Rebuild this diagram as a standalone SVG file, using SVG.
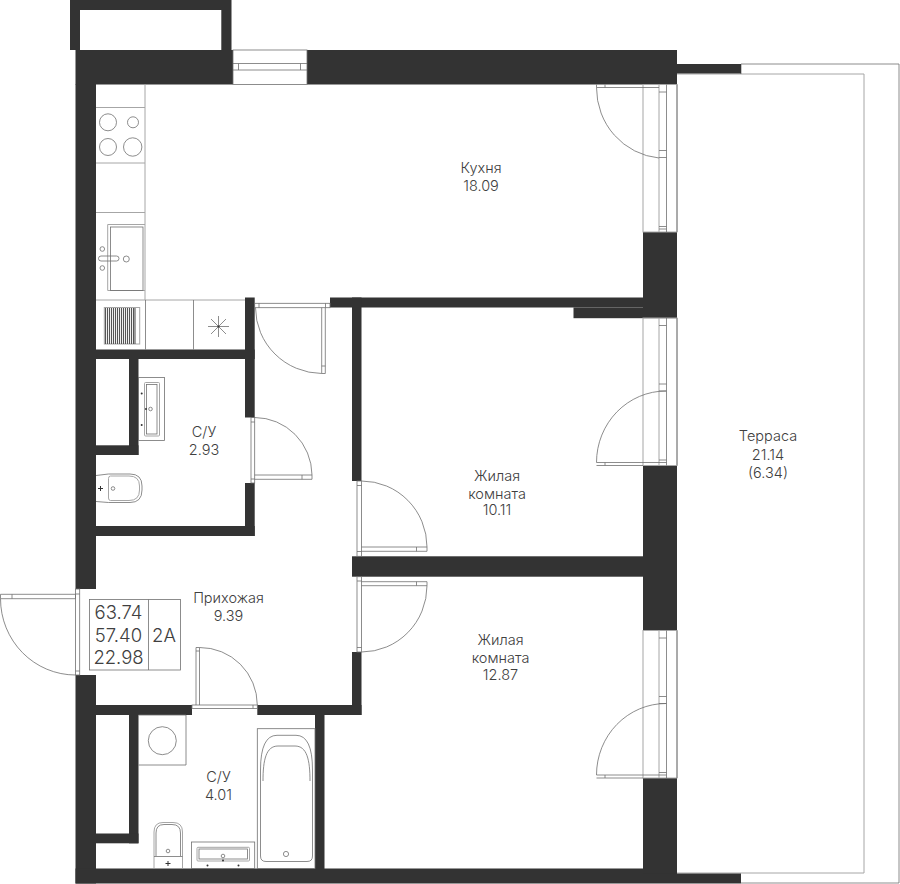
<svg xmlns="http://www.w3.org/2000/svg" width="900" height="884" viewBox="0 0 900 884">
<style>
.w{fill:#333333;stroke:none}
.l{fill:none;stroke:#707070;stroke-width:.8}
.g{fill:none;stroke:#a6a6a6;stroke-width:1}
.f{fill:#333333}
text{font-family:"Inter","Liberation Sans",sans-serif;font-weight:300;font-size:14.5px;fill:#404040;text-anchor:middle}
.b{font-size:18.5px}
</style>
<defs>
<g id="win">
<rect class="g" x="643" y="0" width="34" height="147.500"/>
<path class="l" d="M677 0V147.500"/>
<path class="g" d="M659 0V147.500"/>
<path class="l" d="M666.500 0V147.500M659 7.500H666.500M659 66H666.500M659 73H666.500M659 142H666.500M659 144.500H666.500"/>
</g>
</defs>
<rect width="900" height="884" fill="#ffffff"/>

<g id="terrace">
<path class="l" d="M741 64H899V883H741"/>
<path class="g" d="M677 74H864V873H677"/>
<path class="l" d="M741 64V74"/>
</g>

<g id="walls">
<path class="w" d="M70 0H231.500V50H221.300V10H80V50H70Z"/>
<rect class="w" x="75.500" y="50" width="157.500" height="34.500"/>
<rect class="w" x="307" y="50" width="370" height="34.500"/>
<rect class="w" x="677" y="64" width="64" height="9.500"/>
<rect class="w" x="75.500" y="84" width="20.500" height="505"/>
<rect class="w" x="75.500" y="675" width="20.500" height="208.500"/>
<rect class="w" x="75.500" y="868.500" width="601.500" height="15"/>
<rect class="w" x="677" y="873.500" width="64" height="10"/>
<rect class="w" x="96" y="349.500" width="158.700" height="9.500"/>
<rect class="w" x="245" y="297.500" width="9.700" height="120"/>
<rect class="w" x="245" y="483" width="9.700" height="53"/>
<rect class="w" x="96" y="526" width="158.700" height="10"/>
<rect class="w" x="129" y="359" width="9.500" height="96"/>
<rect class="w" x="96" y="445.300" width="42.500" height="9.700"/>
<rect class="w" x="330" y="297.500" width="313" height="10"/>
<rect class="w" x="573.500" y="307.500" width="103.500" height="10.700"/>
<rect class="w" x="643" y="232" width="34" height="86"/>
<rect class="w" x="352" y="297.500" width="9.500" height="183.500"/>
<rect class="w" x="352" y="556.300" width="291" height="20.400"/>
<rect class="w" x="643" y="466" width="34" height="164.500"/>
<rect class="w" x="352" y="652" width="9.500" height="63"/>
<rect class="w" x="96" y="705" width="96" height="10"/>
<rect class="w" x="257.300" y="705" width="104.200" height="10"/>
<rect class="w" x="315" y="715" width="9.500" height="154"/>
<rect class="w" x="129" y="715" width="9.500" height="128.300"/>
<rect class="w" x="96" y="833.500" width="42.500" height="9.800"/>
<rect class="w" x="643" y="778" width="34" height="95.500"/>
</g>

<g id="top-window">
<rect class="l" x="233" y="50" width="74" height="34.500"/>
<path class="l" d="M233 63.500H307M233 70H307M238.500 63.500V70M300.500 63.500V70"/>
</g>
<g id="terrace-windows">
<use href="#win" y="84.500"/>
<use href="#win" y="318"/>
<use href="#win" y="630.500"/>
</g>

<g id="doors">
<path class="l" d="M596.500 84.500V87.500H659M605 84.500V87.500M596.500 87.500A69 70.500 0 0 0 659 158"/>
<path class="l" d="M596.500 462.500H659M596.500 465.500H643M605 462.500V465.500M596.500 462.500A69.500 71.500 0 0 1 666 391"/>
<path class="l" d="M596.500 775H659M596.500 778H643M605 775V778M596.500 775A69.500 71.500 0 0 1 666 703.500"/>

<rect class="l" x="254.700" y="303.300" width="75.300" height="4.400"/><path class="l" d="M259 303.300V307.700M325.500 303.300V307.700"/>
<path class="l" d="M321.700 307.700V373.500H325.300V307.700M321.700 366H325.300M255.500 307.700A67 66 0 0 0 321.700 373.500"/>

<rect class="l" x="251" y="417.500" width="3.700" height="65.500"/>
<path class="l" d="M251 422H254.700M251 479H254.700M254.700 475H312V479.300H254.700M302 475V479.300M254.700 417.500A57.500 58 0 0 1 312 475"/>

<rect class="l" x="357" y="481" width="4.500" height="75.300"/>
<path class="l" d="M357 485.500H361.500M357 551.500H361.500M361.500 547H427V551.300H361.500M416.500 547V551.300M361.500 481A65.500 66 0 0 1 427 547"/>
<rect class="l" x="357" y="576.700" width="4.500" height="75.300"/>
<path class="l" d="M357 581H361.500M357 647.500H361.500M361.500 581.700H427V585.700H361.500M416.500 581.700V585.700M427 585.700A65.500 66.300 0 0 1 361.500 652"/>

<rect class="l" x="75.500" y="589" width="4.200" height="86"/>
<path class="l" d="M75.500 594H79.700M75.500 671H79.700M.5 594.300H75.500V598.700H.5ZM12 594.300V598.700M.5 598.700A75 76.300 0 0 0 75.500 675"/>

<rect class="l" x="192" y="705" width="65.300" height="3.500"/>
<path class="l" d="M196 705V647.500H199.500V705M196 651H199.500M253 705V708.500M199.500 647.500A57.500 57.500 0 0 1 257.300 705"/>
</g>

<g id="kitchen">
<path class="g" d="M145 84.500V300"/>
<path class="g" d="M96 107.500H145M96 163H145M96 212.500H145M96 300H245"/>
<circle class="l" cx="108" cy="122.300" r="8.500"/>
<circle class="l" cx="133" cy="122.300" r="5.500"/>
<circle class="l" cx="108" cy="147" r="8.500"/>
<circle class="l" cx="132.700" cy="147" r="9.200"/>
<path class="g" d="M145 224.500H107.700V290.500H145"/>
<rect class="l" x="110.500" y="227" width="32.500" height="63.500"/>
<rect class="l" x="98.500" y="256" width="20.500" height="5" rx="2.500"/>
<circle class="l" cx="126.300" cy="259" r="3"/>
<circle class="l" cx="102.300" cy="249" r="2.300"/>
<circle class="l" cx="102.300" cy="268" r="2.300"/>
<path class="l" d="M145.500 300V349.500M193.500 300V349.500"/>
<rect class="g" x="104.300" y="307.500" width="35.400" height="36.500"/>
<path fill="none" stroke="#555555" stroke-width="1.100" d="M105.500 308V344M107.500 308V344M109.500 308V344M111.500 308V344M113.500 308V344M115.500 308V344M117.500 308V344M119.500 308V344M121.500 308V344M123.500 308V344M125.500 308V344M127.500 308V344M129.500 308V344M131.500 308V344M133.500 308V344M135 308V344"/>
<path class="l" d="M218.500 316V337M208 326.500H229M211 319L226 334M226 319L211 334"/>
<circle class="f" cx="218.500" cy="326.500" r="1"/>
</g>

<g id="bath-small">
<rect class="l" x="138.500" y="377.500" width="26" height="63"/>
<rect class="g" x="144.500" y="382.500" width="15" height="53.500" rx="1"/>
<rect class="l" x="146.500" y="384.500" width="10.500" height="49.500"/>
<circle class="f" cx="141.700" cy="393.500" r="1"/>
<circle class="f" cx="141.700" cy="425" r="1"/>
<circle class="f" cx="146" cy="409" r="1"/>
<circle class="l" cx="150.500" cy="409" r="1.800"/>
<path class="l" d="M96 475.500L108.500 474H130Q142 474 142 486V490Q142 502.500 130 502.500H108.500L96 501.500"/>
<path class="g" d="M110.500 476H129Q139.500 476 139.500 486V490Q139.500 500.500 129 500.500H110.500Q108.500 500.500 108.500 498V478.500Q108.500 476 110.500 476Z"/>
<circle class="l" cx="113" cy="488.500" r="1.800"/>
<path stroke="#333333" stroke-width="1" d="M98 488.500H103M100.500 486V491"/>
</g>

<g id="info">
<rect class="l" x="89.500" y="599.500" width="91" height="70.500"/>
<path class="l" d="M148.500 599.500V670"/>
<text class="b" x="118.500" y="619">63.74</text>
<text class="b" x="118.500" y="641.500">57.40</text>
<text class="b" x="118.500" y="664">22.98</text>
<text class="b" x="164" y="641.500">2А</text>
</g>

<g id="bath-large">
<path class="l" d="M138.500 715H186V765H138.500"/>
<circle class="l" cx="162.300" cy="740.700" r="14"/>
<rect class="l" x="257.300" y="728.700" width="57.700" height="139.800"/>
<path class="l" d="M260.500 856V770Q260.500 735.300 277 735.300H296Q312.500 735.300 312.500 770V856Q312.500 861.500 307 861.500H266Q260.500 861.500 260.500 856Z"/>
<path class="l" d="M263 781C263 760 266 746 278 746H295C307 746 310 760 310 781"/>
<circle class="l" cx="286" cy="854" r="2.600"/>
<path class="g" d="M154 868V832Q154 822.500 163 822.500H173Q182.500 822.500 182.500 832V868"/>
<path class="l" d="M156 856V833Q156 824.500 164 824.500H172Q180.500 824.500 180.500 833V856M154 856.500H182.500"/>
<circle class="l" cx="168" cy="851" r="1.800"/>
<path stroke="#333333" stroke-width="1" d="M165.500 863.500H170.500M168 861V866"/>
<rect class="l" x="191.500" y="842" width="63.200" height="26.500"/>
<rect class="g" x="197" y="847.300" width="52.500" height="13.700" rx="1"/>
<rect class="l" x="199" y="849" width="48.500" height="10"/>
<circle class="l" cx="223" cy="856" r="1.800"/>
<circle class="f" cx="223" cy="860.500" r="1"/>
<circle class="f" cx="207.500" cy="865.500" r="1"/>
<circle class="f" cx="238.500" cy="865.500" r="1"/>
</g>

<g id="labels">
<text x="481" y="173">Кухня</text><text x="481" y="190.500">18.09</text>
<text x="768" y="441.300">Терраса</text><text x="768" y="459.500">21.14</text><text x="768" y="478">(6.34)</text>
<text x="497" y="481">Жилая</text><text x="497" y="499">комната</text><text x="497" y="515">10.11</text>
<text x="500.500" y="645">Жилая</text><text x="500.500" y="663">комната</text><text x="500.500" y="680">12.87</text>
<text x="204" y="436.500">С/У</text><text x="204" y="455">2.93</text>
<text x="218.500" y="782">С/У</text><text x="218.500" y="800">4.01</text>
<text x="228.500" y="603">Прихожая</text><text x="228.500" y="621">9.39</text>
</g>
</svg>
